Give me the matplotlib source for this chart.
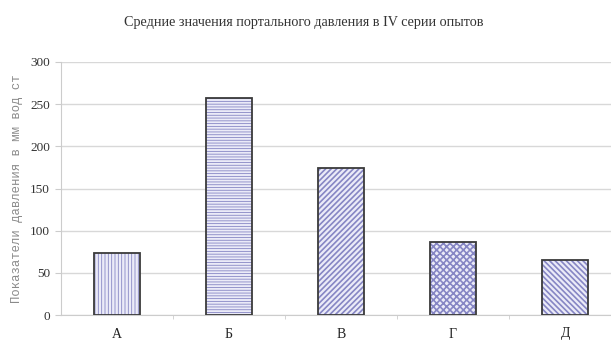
import matplotlib
matplotlib.use("Agg")
import matplotlib.pyplot as plt

# Средние значения портального давления, мм вод. ст.
groups = ["А", "Б", "В", "Г", "Д"]
pressure = [74, 257, 174, 87, 65]
hatches = ["|||||", "------", "//////", "xxxxx", "\\\\\\\\\\\\"]
hatch_widths = [0.6, 0.6, 1.2, 1.2, 1.2]

fig = plt.figure(figsize=(6.11, 3.44), dpi=100)
ax = fig.add_axes([61 / 611, 29 / 344, 550 / 611, 253 / 344])

# hatched fill first (hatch takes the edge colour), then a dark outline on top
for i, (v, h, hw) in enumerate(zip(pressure, hatches, hatch_widths)):
    with plt.rc_context({"hatch.linewidth": hw}):
        b = ax.bar(i, v, width=0.41, color="#ebebf8", edgecolor="#8686c4",
                   linewidth=0, hatch=h, zorder=3)[0]
    if hasattr(b, "set_hatch_linewidth"):
        b.set_hatch_linewidth(hw)
ax.bar(range(len(groups)), pressure, width=0.41, fill=False,
       edgecolor="#3a3a3a", linewidth=1.3, zorder=4)

ax.set_xlim(-0.5, 4.41)
ax.set_ylim(0, 300)
ax.set_yticks(range(0, 301, 50))
ax.yaxis.grid(True, color="#d8d8d8", linewidth=1.0, zorder=0)

ax.set_xticks(range(len(groups)))
ax.set_xticklabels(groups, family="Liberation Serif", fontsize=10, color="#222222")
ax.set_xticks([0.5, 1.5, 2.5, 3.5], minor=True)
ax.tick_params(axis="x", which="major", length=0, pad=9)
ax.tick_params(axis="x", which="minor", length=3, color="#cccccc", direction="out")
ax.tick_params(axis="y", length=4, color="#cccccc", pad=4)
for lab in ax.get_yticklabels():
    lab.set_family("Liberation Serif")
    lab.set_fontsize(9.5)
    lab.set_color("#333333")

for s in ["top", "right"]:
    ax.spines[s].set_visible(False)
ax.spines["left"].set_color("#cccccc")
ax.spines["bottom"].set_color("#cccccc")

ax.set_ylabel("Показатели давления в мм вод ст", family="Liberation Mono",
              fontsize=8.8, color="#8a8a8a", labelpad=5)

fig.text(0.497, 0.935, "Средние значения портального давления в IV серии опытов",
         ha="center", va="center", family="Liberation Serif", fontsize=10.2,
         color="#333333")

fig.savefig("out.png", dpi=100)
